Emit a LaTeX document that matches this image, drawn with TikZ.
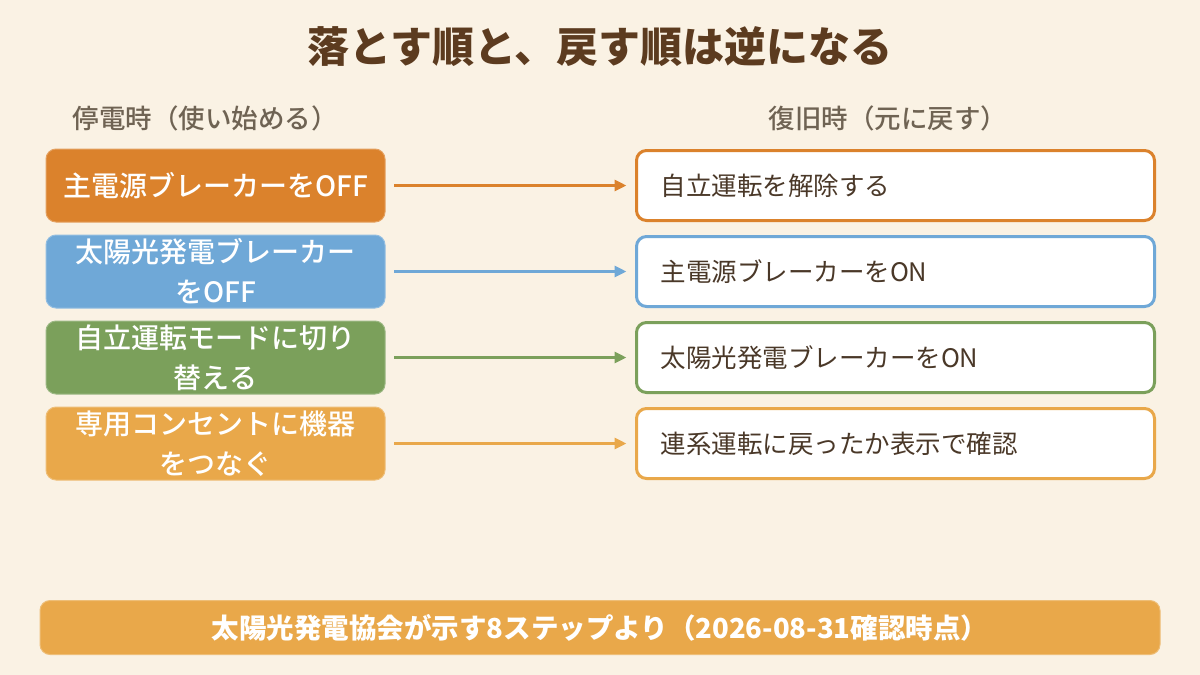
\documentclass[tikz,border=0pt]{standalone}
\usepackage{fontspec}
\setmainfont{Noto Sans CJK JP}
\newfontfamily\jpmed{Noto Sans CJK JP Medium}
\usetikzlibrary{arrows.meta}
\definecolor{rstbg}{HTML}{FAF2E4}
\definecolor{rsttitle}{HTML}{5C3B1F}
\definecolor{rsthead}{HTML}{6F6353}
\definecolor{rsttext}{HTML}{4A3828}
\definecolor{rstorange}{HTML}{DB822C}
\definecolor{rstblue}{HTML}{6FA8D7}
\definecolor{rstgreen}{HTML}{7BA05B}
\definecolor{rstamber}{HTML}{E9A84A}
\newcommand{\rstrow}[5]{%
  \node[offbox, fill=#3, draw=#3!75!white] (off#1) at (215.5,#2) {#4};
  \node[onbox, draw=#3] (on#1) at (895.5,#2) {#5};
  \draw[rstarrow, #3] (off#1) -- (on#1);
}

\begin{document}
\begin{tikzpicture}[x=1pt, y=-1pt,
  offbox/.style={rounded corners=10pt, line width=1pt, minimum width=339pt,
    minimum height=73pt, align=center, text=white, outer sep=0pt,
    font=\jpmed\fontsize{28}{40}\selectfont},
  onbox/.style={rounded corners=10pt, line width=3pt, fill=white,
    minimum width=518pt, minimum height=70pt, text width=470pt, inner xsep=24pt,
    align=left, text=rsttext, outer sep=0pt, font=\fontsize{25.5}{30}\selectfont},
  rstarrow/.style={line width=3pt, -{Triangle[length=12pt,width=11pt]},
    shorten <=9pt, shorten >=10pt},
  header/.style={text=rsthead, font=\jpmed\fontsize{26.5}{30}\selectfont}]
  % background
  \fill[rstbg] (0,0) rectangle (1200,675);
  \useasboundingbox (0,0) rectangle (1200,675);
  % title and column heads
  \node[text=rsttitle, font=\fontsize{42}{50}\selectfont\bfseries] (title) at (600,47) {落とす順と、戻す順は逆になる};
  \node[header] (headoff) at (205,118) {停電時（使い始める）};
  \node[header] (headon) at (888,118) {復旧時（元に戻す）};
  % rows: index, y, colour, off-side text, on-side text
  \rstrow{1}{185.5}{rstorange}{主電源ブレーカーをOFF}{自立運転を解除する}
  \rstrow{2}{271.5}{rstblue}{太陽光発電ブレーカー\\をOFF}{主電源ブレーカーをON}
  \rstrow{3}{357.5}{rstgreen}{自立運転モードに切り\\替える}{太陽光発電ブレーカーをON}
  \rstrow{4}{443.5}{rstamber}{専用コンセントに機器\\をつなぐ}{連系運転に戻ったか表示で確認}
  % source note
  \node[fill=rstamber, draw=rstamber!75!white, line width=1pt, rounded corners=10pt,
    minimum width=1120pt, minimum height=54pt, text=white,
    font=\fontsize{27.5}{30}\selectfont\bfseries] (source) at (600,627.5)
    {太陽光発電協会が示す8ステップより（2026-08-31確認時点）};
\end{tikzpicture}
\end{document}
